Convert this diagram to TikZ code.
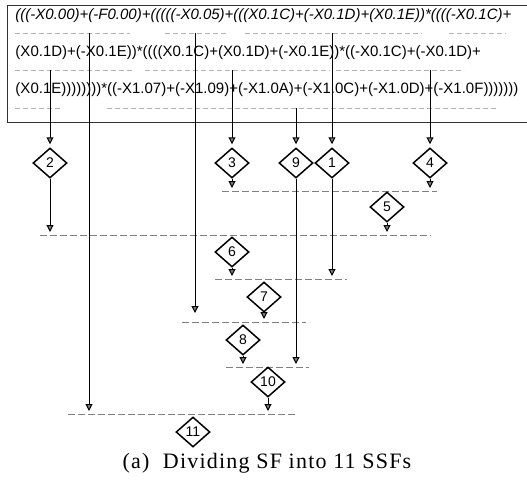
\documentclass[tikz,border=0pt]{standalone}
\usepackage{fontspec}
\setmainfont{Liberation Sans}
\newfontfamily\capfont{Liberation Serif}[LetterSpace=5.5]
\usetikzlibrary{positioning,arrows.meta,shapes.geometric}

\begin{document}
\begin{tikzpicture}[
  x=1pt, y=-1pt,
  line width=1pt,
  ssf/.style={draw, diamond, line width=1.5pt, inner sep=0pt, minimum width=34pt, minimum height=30pt, font=\fontsize{14}{16}\selectfont},
  expr/.style={anchor=west, inner sep=0pt, font=\fontsize{15}{18}\selectfont},
  arr/.style={-{Triangle[width=7pt,length=7pt,fill=gray]}, shorten >=3pt},
  bar/.style={gray, dashed, dash pattern=on 7pt off 3pt, line width=0.8pt},
  uline/.style={gray!60, dashed, dash pattern=on 5pt off 3pt, line width=0.6pt}
]
\useasboundingbox (0,0) rectangle (527,485);

% the SF expression
\draw[line width=1pt, black!80] (529,5) -- (7,5) -- (7,122) -- (529,122);
\node[expr, font=\fontsize{15}{18}\selectfont\itshape] (l1) at (15,16) {(((-X0.00)+(-F0.00)+(((((-X0.05)+(((X0.1C)+(-X0.1D)+(X0.1E))*((((-X0.1C)+};
\node[expr] (l2) at (15,53) {(X0.1D)+(-X0.1E))*((((X0.1C)+(X0.1D)+(-X0.1E))*((-X0.1C)+(-X0.1D)+};
\node[expr] (l3) at (15,90) {(X0.1E))))))))*((-X1.07)+(-X1.09)+(-X1.0A)+(-X1.0C)+(-X1.0D)+(-X1.0F)))))))};
\draw[uline] (15,33) -- (130,33) (165,33) -- (228,33) (245,33) -- (422,33) (449,33) -- (506,33);
\draw[uline] (15,70) -- (132,70) (145,70) -- (330,70) (336,70) -- (464,70);
\draw[uline] (15,108) -- (62,108) (107,108) -- (497,108);

% start points on the expression
\coordinate (sa) at (89,33);
\coordinate (sb) at (195,33);
\coordinate (s1) at (332,33);
\coordinate (s2) at (50,70);
\coordinate (s3) at (232,70);
\coordinate (s4) at (430,70);
\coordinate (s9) at (296,108);

% bars
\coordinate (bA1) at (40,235);  \coordinate (bA2) at (431,235);
\coordinate (bB1) at (222,191); \coordinate (bB2) at (437,191);
\coordinate (bC1) at (215,279); \coordinate (bC2) at (347,279);
\coordinate (bD1) at (182,322); \coordinate (bD2) at (306,322);
\coordinate (bE1) at (226,367); \coordinate (bE2) at (309,367);
\coordinate (bF1) at (68,414);  \coordinate (bF2) at (297,414);
\foreach \b in {A,B,C,D,E,F}
  \draw[bar] (b\b1) -- (b\b2);

% SSFs
\node[ssf] (d2) at (50,163) {2};
\node[ssf] (d3) at (232,163) {3};
\node[ssf] (d9) at (296,163) {9};
\node[ssf] (d1) at (332,163) {1};
\node[ssf] (d4) at (430,163) {4};
\node[ssf] (d5) at (387,207) {5};
\node[ssf] (d6) at (232,252) {6};
\node[ssf] (d7) at (264,297) {7};
\node[ssf] (d8) at (243,340) {8};
\node[ssf] (d10) at (268,382) {10};
\node[ssf] (d11) at (193,432) {11};

\draw[arr] (s1) -- (d1);
\draw[arr] (s2) -- (d2);
\draw[arr] (s3) -- (d3);
\draw[arr] (s4) -- (d4);
\draw[arr] (s9) -- (d9);
\draw[arr] (sa) -- (sa |- bF1);
\draw[arr, shorten >=9pt] (sb) -- (sb |- bD1);
\draw[arr] (d2) -- (d2 |- bA1);
\draw[arr] (d3) -- (d3 |- bB1);
\draw[arr] (d4) -- (d4 |- bB1);
\draw[arr] (d5) -- (d5 |- bA1);
\draw[arr] (d6) -- (d6 |- bC1);
\draw[arr] (d1) -- (d1 |- bC1);
\draw[arr] (d7) -- (d7 |- bD1);
\draw[arr] (d8) -- (d8 |- bE1);
\draw[arr] (d9) -- (d9 |- bE1);
\draw[arr] (d10) -- (d10 |- bF1);

\node[font=\fontsize{22}{26}\selectfont\capfont] (cap) at (267,463) {(a)\ \ Dividing SF into 11 SSFs};
\end{tikzpicture}
\end{document}
